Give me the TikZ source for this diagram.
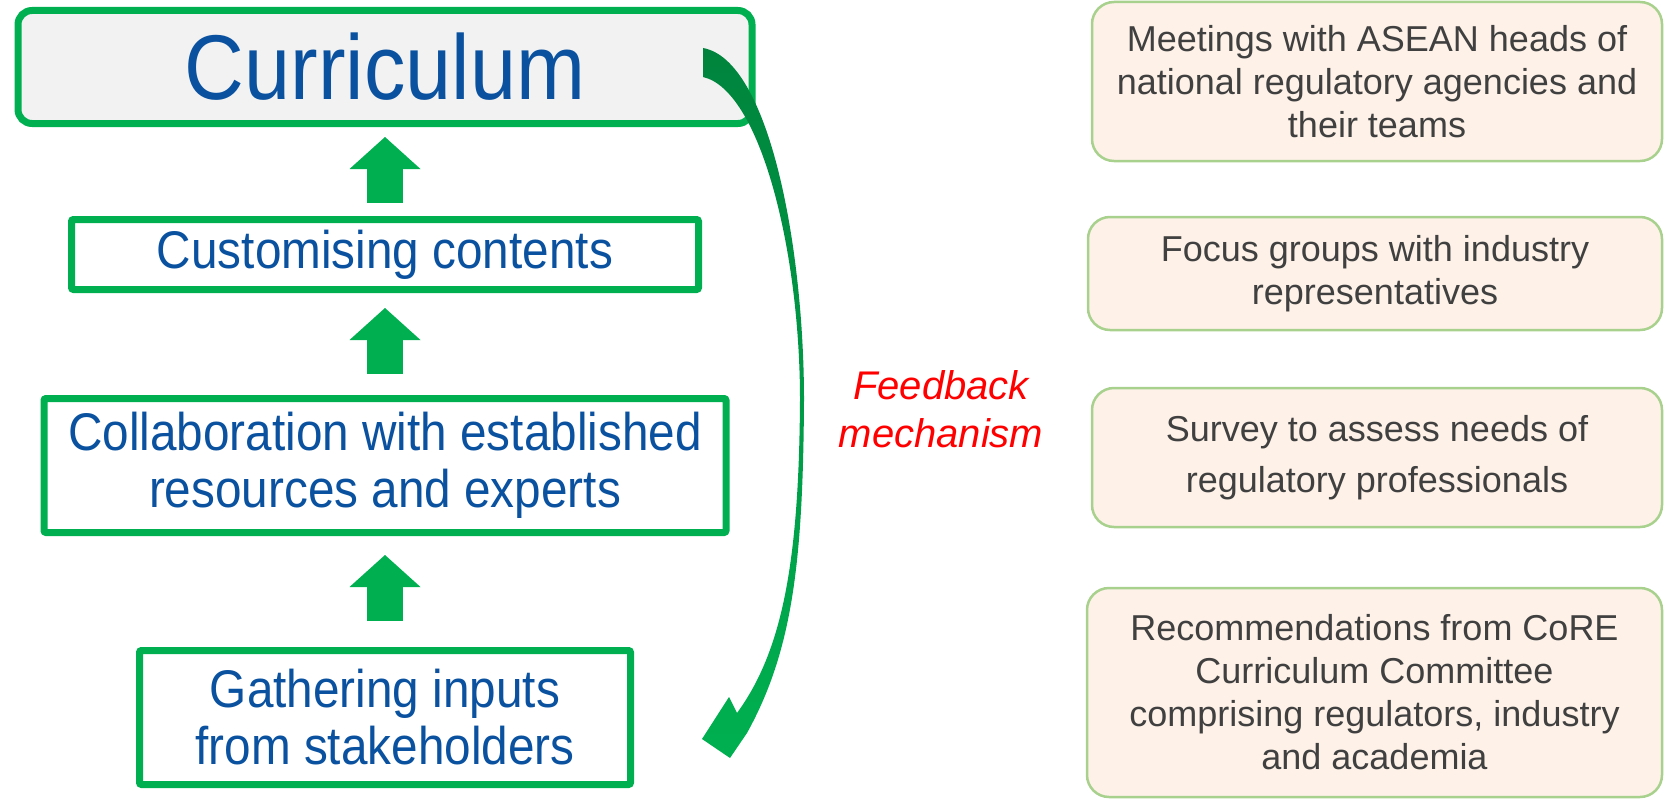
\documentclass[tikz,border=0pt]{standalone}
\usepackage{fontspec}
\setmainfont{Liberation Sans}
\newfontfamily\narrowsans[FakeStretch=0.9]{Liberation Sans}
\usepackage{xcolor}
\usetikzlibrary{calc}
\usetikzlibrary{arrows.meta}

\definecolor{boxgreen}{HTML}{00B050}
\definecolor{fbdark}{HTML}{00843D}
\definecolor{titleblue}{HTML}{0A52A0}
\definecolor{softgreen}{HTML}{A9D18E}
\definecolor{peach}{HTML}{FDF1E8}
\definecolor{darkgrey}{HTML}{404040}
\definecolor{currgrey}{HTML}{F2F2F2}

\tikzset{
	stepbox/.style={draw=boxgreen, line width=7pt, fill=white, inner sep=0pt, rounded corners=2pt, text=titleblue, align=center, font=\narrowsans\fontsize{53}{57}\selectfont},
	sourcebox/.style={draw=softgreen, line width=2.5pt, fill=peach, rounded corners=22pt, inner sep=0pt, text=darkgrey, align=center, font=\fontsize{36}{43}\selectfont},
	uparrow/.style={draw=boxgreen, line width=36pt, -{Triangle[width=71pt, length=32pt, line width=0pt]}}
}

\begin{document}
\begin{tikzpicture}[x=1pt, y=-1pt]
				\useasboundingbox (0,0) rectangle (1665,800);
				
				\node[stepbox, fill=currgrey, rounded corners=14pt, minimum width=734pt, minimum height=113pt, font=\narrowsans\fontsize{92}{100}\selectfont] at (385,67) (curr) {Curriculum};
				\node[stepbox, minimum width=627pt, minimum height=70pt] at (385,254.5) (cust) {Customising contents};
				\node[stepbox, minimum width=682pt, minimum height=134pt] at (385,465.5) (collab) {Collaboration with established\\resources and experts};
				\node[stepbox, minimum width=491pt, minimum height=134pt] at (385,717.5) (gather) {Gathering inputs\\from stakeholders};
				
				\node[text=red, font=\itshape\fontsize{40}{48}\selectfont, align=center] at (941,409) (feedback) {Feedback\\mechanism};
				
				\node[sourcebox, minimum width=570pt, minimum height=159pt] at (1377,81.5) (meetings) {Meetings with ASEAN heads of\\national regulatory agencies and\\their teams};
				\node[sourcebox, minimum width=574pt, minimum height=113pt] at (1375,273.5) (focus) {Focus groups with industry\\representatives};
				\node[sourcebox, minimum width=570pt, minimum height=139pt, font=\fontsize{36}{51}\selectfont] at (1377,457.5) (survey) {Survey to assess needs of\\regulatory professionals};
				\node[sourcebox, minimum width=575pt, minimum height=209pt] at (1374.5,692.5) (core) {Recommendations from CoRE\\Curriculum Committee\\comprising regulators, industry\\and academia};
				
				\draw (cust) edge [uparrow, shorten <=13pt, shorten >=10pt] (curr);
				\draw (collab) edge [uparrow, shorten <=21pt, shorten >=15pt] (cust);
				\draw (gather) edge [uparrow, shorten <=26pt, shorten >=19pt] (collab);
				
				\coordinate (fbtail) at ($(curr.east)+(-52.5,-19)$);
				\coordinate (fbtip) at ($(gather.east)+(68,21.5)$);
				\shade[top color=fbdark, bottom color=boxgreen]
					(fbtail) .. controls ($(fbtail)+(67,12)$) and ($(fbtail)+(101,202)$) .. ($(fbtail)+(101,352)$)
					.. controls ($(fbtip)+(101,-179)$) and ($(fbtip)+(91,-89)$) .. ($(fbtip)+(45,-6)$)
					-- ($(fbtip)+(28,19)$) -- (fbtip) -- ($(fbtip)+(27,-42)$) -- ($(fbtip)+(35,-26)$)
					.. controls ($(fbtip)+(81,-89)$) and ($(fbtip)+(97,-179)$) .. ($(fbtail)+(97,352)$)
					.. controls ($(fbtail)+(97,202)$) and ($(fbtail)+(57,42)$) .. ($(fbtail)+(0,29)$) -- cycle;
			\end{tikzpicture}
\end{document}
